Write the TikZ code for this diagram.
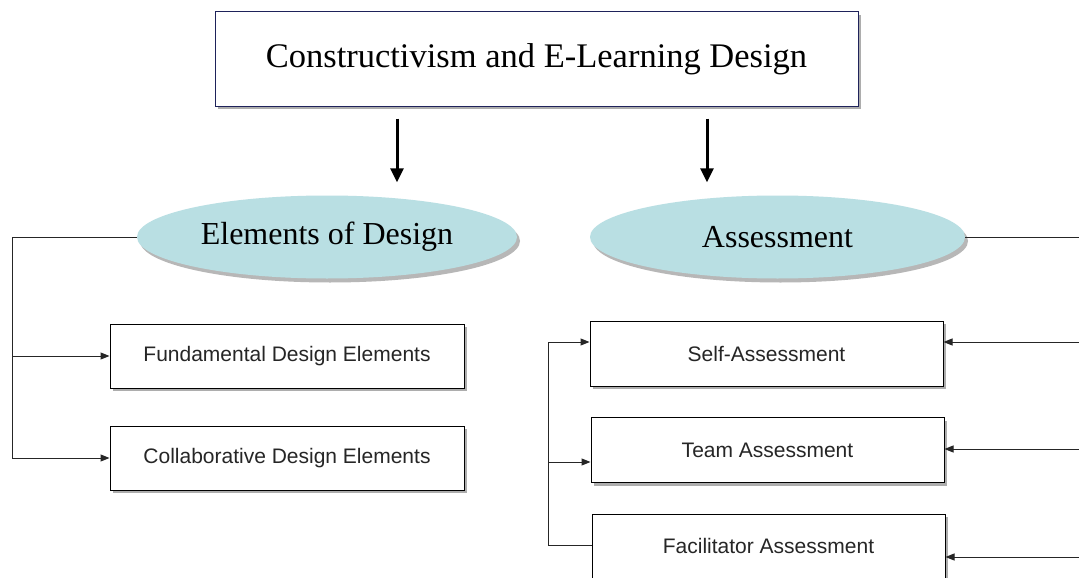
\documentclass[tikz,border=0pt]{standalone}
\usepackage{fontspec}
\setmainfont{Liberation Serif}
\setsansfont{Liberation Sans}
\usetikzlibrary{shapes.geometric,shadows,arrows.meta}
\definecolor{navy}{RGB}{30,34,90}
\definecolor{ellfill}{RGB}{185,223,227}
\definecolor{shad}{RGB}{165,165,165}
\tikzset{
  shad/.style={drop shadow={shadow xshift=3pt,shadow yshift=-3pt,fill=shad,opacity=0.9}},
  titlebox/.style={draw=navy,line width=1pt,fill=white,minimum width=643pt,minimum height=94pt,inner sep=0pt,font=\fontsize{34.5}{38}\selectfont,shad},
  ell/.style={ellipse,draw=none,fill=ellfill,minimum width=380pt,minimum height=83pt,inner sep=0pt,font=\fontsize{32}{36}\selectfont,drop shadow={shadow xshift=3pt,shadow yshift=-4pt,fill=shad,opacity=0.8}},
  itembox/.style={draw=black,line width=1pt,fill=white,minimum width=354pt,minimum height=64pt,inner sep=0pt,font=\sffamily\fontsize{21}{24}\selectfont,text=black!85,shad},
  bigarrow/.style={line width=3pt,-{Triangle[length=14pt,width=13pt]}},
  conn/.style={line width=1pt,draw=black!85},
  connarr/.style={conn,-{Triangle[length=9pt,width=7pt]}}
}
\begin{document}
\begin{tikzpicture}[x=1pt,y=-1pt]
\useasboundingbox (0,0) rectangle (1079,578);
\fill[white] (0,0) rectangle (1079,578);
\node[titlebox] (top) at (536.5,59) {Constructivism and E-Learning Design};
\node[ell] (e1) at (327,237) {Elements of Design};
\node[ell,minimum width=375pt] (e2) at (777.5,237) {Assessment};
\node[itembox] (b1) at (287,356) {Fundamental Design Elements};
\node[itembox] (b2) at (287,458) {Collaborative Design Elements};
\node[itembox,minimum width=353pt,minimum height=65pt] (s1) at (766.5,353.5) {Self-Assessment};
\node[itembox,minimum width=353pt,minimum height=65pt] (s2) at (767.5,450) {Team Assessment};
\node[itembox,minimum width=353pt,minimum height=64pt] (s3) at (768.5,546) {Facilitator Assessment};
% thick arrows
\coordinate (a1) at (397,0);
\coordinate (a2) at (707,0);
\draw[bigarrow,shorten <=12pt,shorten >=13pt] (top.south -| a1) -- (e1.north -| a1);
\draw[bigarrow,shorten <=12pt,shorten >=13pt] (top.south -| a2) -- (e2.north -| a2);
% left tree
\coordinate (L) at (12,237);
\draw[conn] (e1.west) -- (L) -- (L |- b2.west);
\draw[connarr] (L |- b1.west) -- (b1.west);
\draw[connarr] (L |- b2.west) -- (b2.west);
% right inner tree
\coordinate (M) at (548,0);
\draw[conn] ([yshift=1pt]s3.west) -- ([yshift=1pt]s3.west -| M) -- ([yshift=11.5pt]s1.west -| M);
\draw[connarr] ([yshift=11.5pt]s1.west -| M) -- ([yshift=11.5pt]s1.west);
\draw[connarr] ([yshift=-12pt]s2.west -| M) -- ([yshift=-12pt]s2.west);
% right outer tree
\coordinate (R) at (1090,0);
\draw[conn] (e2.east) -- (e2.east -| R) -- ([yshift=-11pt]s3.east -| R);
\draw[connarr] ([yshift=11.5pt]s1.east -| R) -- ([yshift=11.5pt]s1.east);
\draw[connarr] ([yshift=1pt]s2.east -| R) -- ([yshift=1pt]s2.east);
\draw[connarr] ([yshift=-11pt]s3.east -| R) -- ([yshift=-11pt]s3.east);
\end{tikzpicture}
\end{document}
